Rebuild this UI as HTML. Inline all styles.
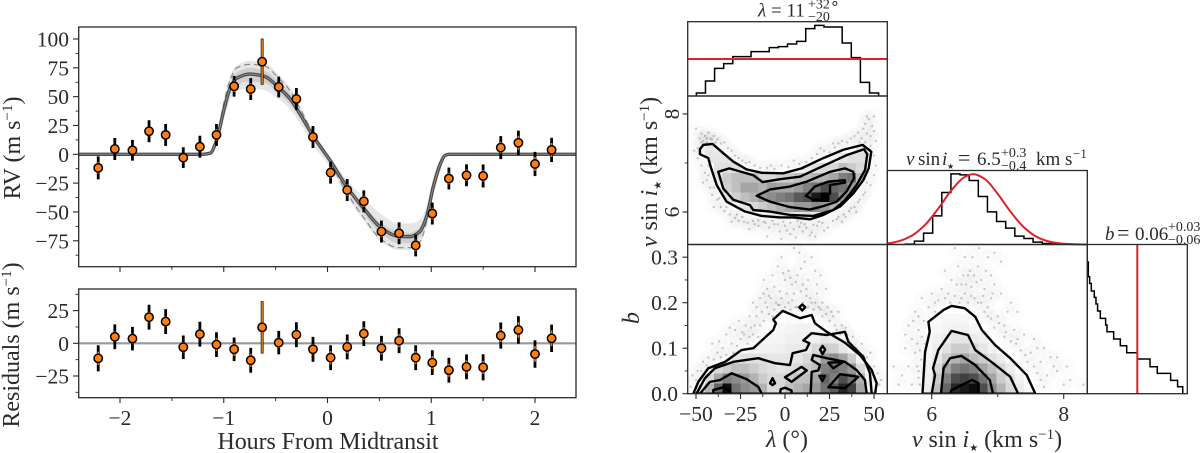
<!DOCTYPE html>
<html lang="en">
<head>
<meta charset="utf-8">
<title>RV transit fit and corner plot</title>
<style>
html,body{margin:0;padding:0;background:#fff;width:1200px;height:453px;overflow:hidden;}
svg{display:block;overflow:hidden;}
text{font-family:"Liberation Serif","DejaVu Serif",serif;fill:#2b2b2b;}
.tick{font-size:21.5px;}
.lab{font-size:24px;}
.ttl{font-size:19px;}
.frame{fill:none;stroke:#2a2a2a;stroke-width:1.3;}
</style>
</head>
<body>
<svg id="chart" xmlns="http://www.w3.org/2000/svg" width="1200" height="453" viewBox="0 0 1200 453">
<defs>
<clipPath id="clip-rv"><rect x="78.7" y="27" width="497.3" height="239.7"/></clipPath>
<clipPath id="clip-res"><rect x="78.7" y="289" width="497.3" height="108.7"/></clipPath>
<clipPath id="clip-a"><rect x="687.7" y="96" width="199.6" height="148.5"/></clipPath>
<clipPath id="clip-b"><rect x="687.7" y="244.5" width="199.6" height="149.2"/></clipPath>
<clipPath id="clip-c"><rect x="887.3" y="244.5" width="200" height="149.2"/></clipPath>
</defs>
<g id="marks"></g>
<g id="ticks"></g>
<g>
<rect class="frame" x="78.7" y="27" width="497.3" height="239.7"/>
<rect class="frame" x="78.7" y="289" width="497.3" height="108.7"/>
<rect class="frame" x="687.7" y="21.7" width="199.6" height="74.3"/>
<rect class="frame" x="687.7" y="96" width="199.6" height="148.5"/>
<rect class="frame" x="687.7" y="244.5" width="199.6" height="149.2"/>
<rect class="frame" x="887.3" y="170.5" width="200" height="74"/>
<rect class="frame" x="887.3" y="244.5" width="200" height="149.2"/>
<rect class="frame" x="1087.3" y="244.5" width="100" height="149.2"/>
</g>
<text class="lab" transform="translate(20,148) rotate(-90)" text-anchor="middle">RV (m s<tspan font-size="15" dy="-8">−1</tspan><tspan dy="8">)</tspan></text>
<text class="lab" transform="translate(19,345) rotate(-90)" text-anchor="middle">Residuals (m s<tspan font-size="15" dy="-8">−1</tspan><tspan dy="8">)</tspan></text>
<text class="lab" x="328" y="449" text-anchor="middle" textLength="221">Hours From Midtransit</text>
<text class="lab" transform="translate(657,172) rotate(-90)" text-anchor="middle"><tspan font-style="italic">v</tspan> sin <tspan font-style="italic">i</tspan><tspan font-size="10" dy="4">★</tspan><tspan dy="-4"> (km s</tspan><tspan font-size="15" dy="-8">−1</tspan><tspan dy="8">)</tspan></text>
<text class="lab" transform="translate(639,318) rotate(-90)" text-anchor="middle" font-style="italic">b</text>
<text class="lab" x="787" y="447" text-anchor="middle"><tspan font-style="italic">λ</tspan> (°)</text>
<text class="lab" x="987" y="447" text-anchor="middle"><tspan font-style="italic">v</tspan> sin <tspan font-style="italic">i</tspan><tspan font-size="10" dy="4">★</tspan><tspan dy="-4"> (km s</tspan><tspan font-size="15" dy="-8">−1</tspan><tspan dy="8">)</tspan></text>
<text class="ttl" x="758" y="16.5"><tspan font-style="italic">λ</tspan> = 11<tspan x="808" y="8.5" font-size="14">+32</tspan><tspan font-size="16" font-family="DejaVu Sans">∘</tspan><tspan x="808" y="21" font-size="14">−20</tspan></text>
<text class="ttl" y="165"><tspan x="906" font-style="italic">v</tspan><tspan x="918">sin</tspan><tspan x="942" font-style="italic">i</tspan><tspan x="947" y="169" font-size="8">★</tspan><tspan x="958" y="165" font-size="22">=</tspan><tspan x="977">6.5</tspan><tspan x="1001" y="157" font-size="14">+0.3</tspan><tspan x="1001" y="170" font-size="14">−0.4</tspan><tspan x="1036" y="165">km s</tspan><tspan x="1073" y="158" font-size="13">−1</tspan></text>
<text class="ttl" y="240"><tspan x="1105" font-style="italic">b</tspan><tspan x="1117" font-size="22">=</tspan><tspan x="1135">0.06</tspan><tspan x="1168" y="231" font-size="14">+0.03</tspan><tspan x="1168" y="244" font-size="14">−0.06</tspan></text>
</svg>
<script>
// --- RV panel data ---
const hours = [-2.21,-2.05,-1.88,-1.72,-1.56,-1.39,-1.23,-1.07,-0.90,-0.74,-0.63,-0.47,-0.30,-0.14,0.03,0.19,0.35,0.52,0.69,0.85,1.01,1.17,1.34,1.50,1.67,1.84,2.00,2.16];
const rv = [-11.8,4.6,3.5,20,16.8,-2.9,6.6,16.8,59,56.6,80.3,58.4,48,15,-15.9,-31,-40.8,-67,-68.5,-79,-51.4,-21,-18.2,-18.8,5.8,10,-8.4,3.8];
const residuals = [-11.5,5,3.6,20,16.6,-3,7,-1,-4.6,-13,12.2,0.5,6.6,-4.6,-11,-2.8,7.4,-3.8,2,-11,-14.8,-20.6,-18,-18.4,5.9,10.2,-8.2,3.8];
const errTotal = [10,9.5,9,9.5,9.5,9,9.5,9.5,9,9.5,20,9,9.5,9.5,9.5,9.5,9.5,9.5,9.5,9.5,9.5,9.5,9.5,10,10,10.5,10.5,10.5];
const errInstr = [5,4,4,4,4,4,4,5,5,5,19.5,4,4,4,5,5,5,5,5,5,5,5,5,5,5,6,6,6];
const modelHours = [-2.4,-1.2,-1.13,-1.07,-1.0,-0.94,-0.875,-0.75,-0.62,-0.46,-0.36,-0.265,-0.14,0.03,0.185,0.35,0.52,0.68,0.795,0.89,0.955,1.02,1.085,1.13,1.17,2.4];
const modelRV = [0,0,1,12,38,57,66,69.6,68,57,48,35,16,-6,-28,-47,-64,-71,-71.4,-67,-54,-28,-9,-1.2,0,0];
const dashedRV = [0,0,1,14,44,64,75,78,77,65,55,40,18,-8,-33,-55,-74,-81,-81,-76,-59,-30,-11,-1.5,0,0];
const outerHi = [0,0,2,16,47,68,77,81,80,68,58,42,20,-3,-22,-38,-52,-60,-60,-57,-45,-20,-4,0,0,0];
const outerLo = [0,0,0,8,30,47,55,57,56,47,39,27,8,-12,-36,-58,-76,-83,-83,-78,-62,-36,-15,-3,0,0];
const innerHi = [0,0,1.5,13,41,61,71,75,73,62,53,38,17,-5,-26,-44,-60,-67,-68,-63,-50,-25,-7,-0.5,0,0];
const innerLo = [0,0,0.5,10,34,52,60,63,62,52,43,31,13,-9,-31,-52,-69,-77,-77,-72,-58,-31,-11,-2,0,0];
const rvTicks = [100,75,50,25,0,-25,-50,-75];
const rvTickLabels = ["100","75","50","25","0","−25","−50","−75"];
const resTicks = [25,0,-25];
const resTickLabels = ["25","0","−25"];
const hourTicks = [-2,-1,0,1,2];
const hourTickLabels = ["−2","−1","0","1","2"];

// --- Corner histograms ---
const lambdaHist = [9,45,83,97,118,118,133,133,145,148,156,164,202,212,207,207,159,115,41,9];
const lambdaBinStart = -49.8;
const lambdaBinWidth = 5.12;
const lambdaPriorLevel = [111];
const vsiniHist = [1,10,34,86,156,212,209,192,144,98,69,49,25,18,7,3,1];
const vsiniBinStart = 5.6;
const vsiniBinWidth = 0.1383;
const priorV = [5.33,5.5,5.7,5.9,6.1,6.3,6.5,6.63,6.8,7,7.2,7.4,7.6,7.8,8,8.36];
const priorH = [3.7,10,26.6,59,108,163,202.6,211,197,152,97,51,22,8,2.3,0];
const bHistEdges = [0,0.0033,0.0077,0.0132,0.023,0.0286,0.034,0.043,0.0605,0.065,0.087,0.109,0.13,0.165,0.207,0.231,0.275,0.298,0.315,0.318];
const bHist = [395,351,331,308,289,269,248,226,206,186,164,144,123,104,81,61,40,21,0];
const bPrior = [0.165];

// --- 2D histograms (darkness, top row first) ---
const heatAV = [7.3,7.1,6.9,6.7,6.5,6.3,6.1,5.9];
const heatA = [
[.05,.1,.08,0,0,0,0,0,0,0,0,0,0,0,0,0,0,0,.1,.05],
[0,.1,.1,.1,.05,0,0,0,0,0,0,0,0,0,0,.05,.1,.12,.12,.08],
[0,0,.12,.12,.12,.1,.05,0,0,0,.02,.05,.08,.12,.15,.15,.25,.2,.15,.05],
[0,0,.1,.2,.25,.25,.25,.15,.15,.18,.2,.25,.25,.3,.3,.35,.5,.55,.25,0],
[0,0,.05,.18,.25,.35,.35,.3,.38,.35,.35,.4,.5,.55,.7,.6,.55,.4,.1,0],
[0,0,0,.1,.18,.25,.3,.4,.45,.5,.55,.65,.7,.9,1,.7,.45,.2,.05,0],
[0,0,0,0,.05,.1,.15,.2,.25,.3,.35,.4,.4,.45,.4,.3,.15,.05,0,0],
[0,0,0,0,0,0,.03,.06,.08,.1,.1,.1,.12,.1,.06,.03,0,0,0,0]];
const heatBRows = [.165,.143,.121,.099,.077,.055,.033,.011];
const heatB = [
[0,0,0,0,0,0,0,0,0,0,.02,.02,0,0,0,0,0,0,0,0],
[0,0,0,0,0,0,0,0,0,.03,.04,.05,.05,.03,0,0,0,0,0,0],
[0,0,0,0,0,0,0,.03,.04,.04,.06,.06,.05,.06,.1,.08,.05,0,0,0],
[0,0,0,0,0,.03,.05,.05,.05,.06,.08,.08,.08,.15,.2,.18,.1,.05,0,0],
[0,0,.03,.08,.1,.12,.12,.12,.1,.1,.1,.1,.15,.2,.4,.45,.35,.2,.05,0],
[0,.05,.15,.2,.25,.25,.2,.15,.12,.1,.12,.15,.2,.25,.5,.55,.5,.4,.15,.02],
[.02,.15,.35,.5,.45,.4,.3,.2,.15,.15,.2,.25,.25,.35,.6,.5,.7,.55,.3,.05],
[.1,.3,.6,.95,.55,.45,.4,.3,.15,.15,.25,.3,.35,.4,.55,.65,.85,.75,.35,.05]];
const heatC = [
[0,0,0,.02,.03,.03,.03,.02,0,0,0,0,0,0],
[0,0,.02,.03,.04,.05,.05,.04,.03,0,0,0,0,0],
[0,0,.03,.05,.08,.1,.1,.08,.06,.03,0,0,0,0],
[0,0,.03,.07,.12,.2,.2,.15,.1,.05,.02,0,0,0],
[0,0,.04,.1,.2,.3,.35,.25,.2,.12,.08,.02,0,0],
[0,0,.05,.15,.35,.5,.55,.5,.35,.25,.15,.08,.02,0],
[0,0,.06,.2,.5,.7,.75,.7,.55,.35,.2,.12,.05,.01],
[0,0,.08,.25,.6,.85,.9,.95,.7,.45,.3,.15,.08,.02]];

// --- Contours: [x,y] in data units ---
const contoursA = [
[[-47.8,7.28],[-45.9,7.37],[-40.7,7.39],[-34.7,7.2],[-29.1,7.03],[-21.6,6.87],[-13.1,6.8],[-1,6.79],[9.3,6.89],[21.5,7.1],[32.8,7.27],[43.6,7.37],[48.5,7.23],[47,6.89],[44,6.65],[38.4,6.38],[30.9,6.11],[21.5,5.94],[14,5.85],[4.7,5.89],[-2.8,5.89],[-13.1,5.92],[-22.5,6.01],[-32.8,6.21],[-38.4,6.55],[-41.8,6.93],[-43.1,7.1],[-47.8,7.18]],
[[-37.5,6.82],[-31.3,6.89],[-17.8,6.75],[-12.6,6.61],[-2.8,6.67],[8.4,6.72],[21.5,6.94],[34.6,7.16],[44.4,7.28],[46.2,7.18],[45,6.86],[40.2,6.55],[33.7,6.24],[27.1,6.04],[15.9,5.92],[2.8,5.94],[-8.4,6.01],[-17.8,6.04],[-19.7,6.14],[-29.1,6.25],[-34.7,6.48]],
[[-15.9,6.33],[-8.4,6.46],[2.8,6.52],[12.2,6.62],[25.3,6.82],[33.7,6.89],[38.4,6.82],[38.8,6.69],[34.6,6.42],[29,6.21],[21.5,6.12],[14,6.05],[2.8,6.1],[-8.4,6.21]],
[[11.8,6.33],[16.8,6.52],[24.3,6.62],[33.7,6.65],[33.7,6.6],[25.3,6.55],[25.3,6.38],[21.5,6.25],[15.9,6.25]]];
const contoursB = [
[[-51.5,0],[-48.7,.026],[-43.1,.056],[-33.7,.07],[-24.4,.096],[-17.8,.1],[-6.6,.14],[-5.1,.155],[-6.6,.163],[-1.3,.182],[8.4,.166],[15,.173],[16.8,.155],[23.4,.136],[33.7,.112],[42.1,.085],[48.7,.052],[51.5,.023],[50.6,0]],
[[-49.7,0],[-45,.034],[-39.4,.056],[-29,.07],[-15,.078],[-5.6,.067],[2.8,.063],[4.3,.089],[11.8,.096],[13.7,.111],[10.3,.117],[15,.133],[23.4,.129],[33.7,.136],[35.6,.114],[44,.081],[47.7,.045],[48.7,0]],
[[-47.8,0],[-42.2,.026],[-36.5,.03],[-30,.045],[-21.6,.032],[-15,.015],[-13.1,0]],
[[14.4,0],[15,.048],[18.7,.051],[19.6,.063],[15,.074],[15.9,.085],[23.4,.078],[33.7,.07],[40.2,.052],[44.9,.03],[45.9,0]],
[[0,.036],[9.3,.059],[12.2,.051],[3.7,.026]],
[[-2.8,0],[-2.4,.01],[0,.013],[3.7,.007],[3.7,0]],
[[-7,.034],[-8.4,.023],[-7,.019],[-5.6,.023]],
[[9.7,.196],[8,.19],[9.7,.183],[11.4,.19]],
[[21.1,.105],[19.7,.097],[21.1,.087],[22.6,.097]],
[[24.3,.068],[32.8,.07],[27.1,.056]],
[[19.3,.039],[22.5,.039],[21,.028]],
[[24.3,.014],[30.9,.043],[41.2,.037],[33.7,.012],[27.1,.014]],
[[-40.3,.008],[-34.7,.014],[-30.9,.007],[-30.9,0],[-40.3,0]]];
const contoursC = [
[[5.86,0],[5.9,.092],[5.97,.136],[5.95,.158],[6.18,.184],[6.3,.193],[6.5,.188],[6.66,.169],[6.76,.14],[6.96,.107],[7.19,.078],[7.44,.041],[7.57,0]],
[[6,0],[6.05,.041],[6.02,.056],[6.1,.096],[6.3,.138],[6.55,.129],[6.66,.096],[6.93,.067],[7.19,.037],[7.31,0]],
[[6.14,0],[6.18,.056],[6.28,.078],[6.45,.083],[6.66,.063],[6.88,.03],[6.93,0]],
[[6.28,0],[6.3,.008],[6.61,.03],[6.71,.023],[6.71,0]]];

// --- Posterior scatter samples read from the haze ---
const samplesA = [[-50,7.7],[-48,7.5],[-47,7.6],[-46,7.45],[-45,7.55],[-44,7.5],[-43,7.62],[-42,7.5],[-41,7.48],[-40,7.55],[-38,7.48],[-36,7.4],[-34,7.42],[-32,7.3],[-30,7.25],[-28,7.15],[-26,7.1],[-24,7.05],[-22,7],[-20,7.02],[-17,6.95],[-14,6.9],[-10,6.9],[-6,6.88],[-2,6.95],[2,6.92],[5,7.05],[8,6.98],[12,7.02],[15,7.1],[18,7.18],[22,7.25],[25,7.22],[28,7.32],[30,7.4],[32,7.45],[35,7.42],[37,7.5],[39,7.55],[41,7.62],[43,7.5],[44,7.7],[45,7.8],[46,7.6],[47,7.9],[48,7.55],[49,7.75],[50,7.65],[51,7.45],[50,7.95],[46,7.95],[42,7.42],[-49,7.3],[-51,7.25],[-49,7.1],[-47,6.95],[-45,6.8],[-44,6.65],[-42,6.5],[-41,6.35],[-38,6.25],[-36,6.1],[-34,6.02],[-31,5.95],[-28,5.88],[-26,5.82],[-24,5.9],[-21,5.78],[-18,5.82],[-15,5.72],[-12,5.8],[-9,5.68],[-6,5.75],[-3,5.6],[0,5.72],[3,5.55],[5,5.65],[8,5.7],[10,5.6],[12,5.68],[15,5.58],[18,5.72],[21,5.78],[24,5.68],[27,5.82],[30,5.9],[33,5.95],[36,6.02],[39,6.1],[42,6.25],[45,6.4],[48,6.55],[50,6.75],[51,6.95],[50,7.15],[-10,5.5],[-2,5.45],[6,5.48],[14,5.52],[-20,5.65],[22,5.62],[-30,5.8],[32,5.8],[-40,6.1],[40,6],[-46,6.6],[-43,6.95],[48,7.35],[45,7.42],[-47,7.42],[-44,7.42],[-39,7.42],[27,7.4],[20,7.3],[-8,6.95],[-4,5.75],[1,5.62],[9,5.78],[-15,5.83],[17,5.5],[-11,5.78],[-7,5.82],[-1,5.8],[3,5.78],[7,5.82],[11,5.75],[16,5.74],[19,5.8],[-17,5.75],[-23,5.8],[-27,5.95],[-33,6.1],[-37,6.28],[-40,6.5],[-43,6.75],[46,6.6],[44,6.35],[41,6.2],[37,6.08],[34,5.9],[29,5.85]];
const samplesB = [[-2,.3],[2,.27],[5,.32],[8,.31],[11,.29],[15,.3],[-4,.28],[-7,.26],[0,.25],[4,.24],[7,.26],[10,.24],[13,.25],[17,.27],[20,.26],[23,.23],[-10,.23],[-12,.25],[-14,.21],[-8,.21],[-5,.2],[-2,.21],[2,.2],[5,.22],[9,.225],[12,.215],[15,.2],[18,.22],[21,.2],[24,.19],[27,.17],[30,.18],[-16,.19],[-13,.18],[-18,.2],[-20,.17],[-22,.15],[-17,.15],[-12,.16],[-9,.175],[-25,.12],[-28,.14],[-30,.11],[-33,.13],[-26,.16],[-35,.1],[-38,.09],[-41,.11],[-43,.08],[-46,.07],[-49,.05],[-52,.04],[32,.15],[35,.13],[38,.125],[40,.1],[43,.11],[46,.08],[48,.09],[50,.06],[52,.045],[53,.02],[54,.03],[-53,.015],[-50,.03],[-37,.115],[-31,.145],[-24,.135],[-20,.125],[-15,.125],[28,.15],[25,.16],[21,.17],[16,.185],[0,.19],[3,.185],[7,.19],[-3,.225],[-6,.235],[-9,.215],[1,.22],[6,.245],[12,.23],[-1,.265],[3,.255],[9,.275],[-11,.2],[-16,.17],[-19,.145],[-23,.13],[-27,.105],[19,.19],[23,.175],[34,.145],[37,.11],[41,.09],[44,.085],[-40,.075],[-44,.062],[-47,.05],[14,.21],[-4,.195],[18,.24],[-12,.22],[-6,.185],[-3,.195],[4,.205],[10,.2],[13,.19],[17,.2],[20,.185],[-10,.19],[-14,.15],[-18,.13],[26,.18],[29,.14],[31,.13],[36,.115],[-21,.11],[-29,.09],[-33,.085],[-36,.08],[6,.19],[-7,.17]];
const samplesC = [[6.35,.32],[6.6,.33],[6.95,.31],[7.05,.29],[6.85,.3],[6.7,.28],[6.5,.3],[6.4,.28],[6.55,.26],[6.75,.25],[6.9,.26],[6.3,.25],[6.45,.24],[6.6,.235],[6.8,.23],[6.95,.24],[7.05,.22],[7.2,.2],[7.3,.18],[6.15,.23],[6.25,.22],[6.35,.215],[6.5,.22],[6.65,.21],[6.75,.2],[6.9,.21],[6.85,.17],[7,.17],[7.1,.15],[7.25,.14],[7.4,.13],[7.55,.12],[7.7,.1],[7.8,.08],[7.5,.09],[7.65,.07],[7.9,.05],[8.1,.03],[8.3,.02],[8,.02],[7.75,.04],[6.05,.2],[5.95,.19],[5.85,.21],[5.75,.18],[5.65,.15],[5.8,.14],[5.7,.12],[5.6,.1],[5.75,.09],[5.65,.06],[5.8,.05],[5.55,.04],[5.7,.02],[5.5,.02],[5.42,.06],[5.6,.13],[5.88,.16],[5.9,.11],[5.82,.02],[5.84,.075],[6.1,.205],[6.42,.2],[6.55,.2],[6.8,.18],[6.95,.145],[7.1,.125],[7.2,.115],[7.35,.095],[7.45,.07],[7.6,.045],[7.7,.015],[7.9,.08],[8.05,.06],[6.2,.27],[6.62,.3],[6.72,.32],[6.48,.26],[6.58,.27],[6.82,.27],[6.92,.22],[6.38,.24],[6.68,.245],[6.78,.215],[6.28,.2],[7.15,.18],[7.3,.12],[5.78,.11],[5.72,.16],[6,.22],[7.6,.1],[7.85,.06],[6.45,.21],[6.6,.215],[6.7,.2],[6.85,.19],[6.9,.165],[7.02,.155],[7.12,.135],[7.28,.11],[7.42,.085],[7.55,.06],[7.65,.03],[5.8,.17],[5.85,.125],[5.82,.095],[5.78,.06],[5.8,.035],[6.2,.21],[6.05,.18],[6.52,.24],[6.64,.26]];

// --- Tick values ---
const lambdaTicks = [-50,-25,0,25,50];
const lambdaTickLabels = ["−50","−25","0","25","50"];
const bTicks = [0,0.1,0.2,0.3];
const bTickLabels = ["0.0","0.1","0.2","0.3"];
const vTicks = [6,8];
const vTickLabels = ["6","8"];

// --- Axis functions ---
const xH = h => 327.5 + 103.75 * h;
const yRV = v => 154.3 - 1.153 * v;
const yRes = v => 343.3 - 1.307 * v;
const xL = l => 785 + 1.78 * l;
const yV = v => 212 - 49 * (v - 6);
const yB = b => 393.7 - 455 * b;
const xV = v => 931.7 + 66 * (v - 6);
const xBh = b => 1087.3 + 303 * b;
const yHL = c => 96 - c / 3;
const yHV = c => 244.5 - c / 3;
const yHB = c => 393.7 - c / 3;

const NS = 'http://www.w3.org/2000/svg';
const defs = document.querySelector('#chart defs');
const marks = document.getElementById('marks');
const tickG = document.getElementById('ticks');
function mk(tag, parent, attrs) {
  const e = document.createElementNS(NS, tag);
  for (const k in attrs) e.setAttribute(k, attrs[k]);
  parent.appendChild(e);
  return e;
}
function slopeAt(a, b, c) {
  const d1 = (b[1] - a[1]) / ((b[0] - a[0]) || 1);
  const d2 = (c[1] - b[1]) / ((c[0] - b[0]) || 1);
  if (d1 * d2 <= 0) return 0;
  return 2 * d1 * d2 / (d1 + d2);
}
function smooth(pts) {
  let d = 'M' + pts[0][0].toFixed(2) + ' ' + pts[0][1].toFixed(2);
  for (let i = 0; i < pts.length - 1; i++) {
    const p0 = pts[Math.max(i - 1, 0)], p1 = pts[i], p2 = pts[i + 1], p3 = pts[Math.min(i + 2, pts.length - 1)];
    const t = (p2[0] - p1[0]) / 3;
    const m1 = slopeAt(p0, p1, p2);
    const m2 = slopeAt(p1, p2, p3);
    d += ' C' + (p1[0] + t).toFixed(2) + ' ' + (p1[1] + m1 * t).toFixed(2) + ' ' + (p2[0] - t).toFixed(2) + ' ' + (p2[1] - m2 * t).toFixed(2) + ' ' + p2[0].toFixed(2) + ' ' + p2[1].toFixed(2);
  }
  return d;
}
function poly(pts, close) {
  return 'M' + pts.map(p => p[0].toFixed(2) + ' ' + p[1].toFixed(2)).join(' L') + (close ? 'Z' : '');
}
function stepPath(start, width, vals, fx, fy) {
  const pts = [[fx(start), fy(0)]];
  vals.forEach((c, i) => {
    pts.push([fx(start + i * width), fy(c)]);
    pts.push([fx(start + (i + 1) * width), fy(c)]);
  });
  pts.push([fx(start + vals.length * width), fy(0)]);
  return poly(pts, false);
}
function tickMark(x1, y1, x2, y2, w) {
  const el = mk('line', tickG, {x1, y1, x2, y2, stroke: '#2a2a2a', 'stroke-width': w});
  
  
}
function tickLabel(x, y, str, anchor, rot) {
  const el = mk('text', tickG, {class: 'tick', 'text-anchor': anchor});
  if (rot) el.setAttribute('transform', 'translate(' + x + ',' + y + ') rotate(-90)');
  else { el.setAttribute('x', x); el.setAttribute('y', y); }
  el.textContent = str;
  
  
}

// --- RV panel ---
const rvG = mk('g', marks, {'clip-path': 'url(#clip-rv)'});


function band(hi, lo, fill) {
  const top = modelHours.map((h, i) => [xH(h), yRV(hi[i])]);
  const bot = modelHours.map((h, i) => [xH(h), yRV(lo[i])]).reverse();
  const el = mk('path', rvG, {d: smooth(top) + ' L' + smooth(bot).slice(1) + 'Z', fill: fill, stroke: 'none'});
  
  
}
band(outerHi, outerLo, '#e6e6e6');
band(innerHi, innerLo, '#cfcfcf');
const dashedPts = modelHours.map((h, i) => [xH(h), yRV(dashedRV[i])]);
const dashedLine = mk('path', rvG, {d: smooth(dashedPts), fill: 'none', stroke: '#8a8a8a', 'stroke-width': 1.2, 'stroke-dasharray': '6 4'});


const modelPts = modelHours.map((h, i) => [xH(h), yRV(modelRV[i])]);
const modelOuter = mk('path', rvG, {d: smooth(modelPts), fill: 'none', stroke: '#4a4a4a', 'stroke-width': 3.4});


const modelInner = mk('path', rvG, {d: smooth(modelPts), fill: 'none', stroke: '#8c8c8c', 'stroke-width': 1});



function drawPoints(parent, vals, fy) {
  hours.forEach((h, i) => {
    const x = xH(h), y = fy(vals[i]);
    const eb = mk('line', parent, {x1: x, x2: x, y1: fy(vals[i] + errTotal[i]), y2: fy(vals[i] - errTotal[i]), stroke: '#000', 'stroke-width': 2.8});
    
    
    const eo = mk('line', parent, {x1: x, x2: x, y1: fy(vals[i] + errInstr[i]), y2: fy(vals[i] - errInstr[i]), stroke: '#e8780c', 'stroke-width': 1.6});
    
    
    const c = mk('circle', parent, {cx: x, cy: y, r: 4.2, fill: '#ff7f0e', stroke: '#000', 'stroke-width': 1.5});
    
    
  });
}
drawPoints(rvG, rv, yRV);

// --- Residual panel ---
const resG = mk('g', marks, {'clip-path': 'url(#clip-res)'});


const zeroLine = mk('line', resG, {x1: xH(-2.4), x2: xH(2.4), y1: yRes(0), y2: yRes(0), stroke: '#999', 'stroke-width': 2.2});


drawPoints(resG, residuals, yRes);

// --- Corner: 2D panels ---
function corner(clip, samples, fx, fy, contours) {
  const g = mk('g', marks, {'clip-path': 'url(#' + clip + ')'});
  
  
  samples.forEach(s => {
    const halo = mk('circle', g, {cx: fx(s[0]), cy: fy(s[1]), r: 8, fill: '#000', 'fill-opacity': 0.012});
    
    
  });
  samples.forEach(s => {
    const d = mk('circle', g, {cx: fx(s[0]), cy: fy(s[1]), r: 1.2, fill: '#000', 'fill-opacity': 0.2});
    
    
  });
  const outer = contours[0].map(p => [fx(p[0]), fy(p[1])]);
  const cover = mk('path', g, {d: poly(outer, true), fill: '#fff', stroke: 'none'});
  
  
  const cp = mk('clipPath', defs, {id: clip + '-inner'});
  mk('path', cp, {d: poly(outer, true)});
  const inner = mk('g', g, {'clip-path': 'url(#' + clip + '-inner)'});
  
  
  g.heatLayer = inner;
  return g;
}
function heat(g, grid, colX, rowY) {
  grid.forEach((row, r) => row.forEach((val, c) => {
    if (!val) return;
    const box = [colX(c), rowY(r)];
    const g255 = Math.round(255 * (1 - val));
    const cell = mk('rect', g.heatLayer, {x: box[0][0], y: box[1][0], width: box[0][1] - box[0][0], height: box[1][1] - box[1][0], fill: 'rgb(' + g255 + ',' + g255 + ',' + g255 + ')', 'shape-rendering': 'crispEdges'});
    
    
  }));
}
function contourLines(g, contours, fx, fy) {
  contours.forEach(ct => {
    const pts = ct.map(p => [fx(p[0]), fy(p[1])]);
    const path = mk('path', g, {d: poly(pts, true), fill: 'none', stroke: '#000', 'stroke-width': 2.4, 'stroke-linejoin': 'round'});
    
    
  });
}
const gA = corner('clip-a', samplesA, xL, yV, contoursA);
heat(gA, heatA, c => [xL(-50 + 5 * c), xL(-45 + 5 * c)], r => [yV(heatAV[r] + 0.1), yV(heatAV[r] - 0.1)]);
contourLines(gA, contoursA, xL, yV);
const gB = corner('clip-b', samplesB, xL, yB, contoursB);
heat(gB, heatB, c => [xL(-50 + 5 * c), xL(-45 + 5 * c)], r => [yB(heatBRows[r] + 0.011), yB(heatBRows[r] - 0.011)]);
contourLines(gB, contoursB, xL, yB);
const gC = corner('clip-c', samplesC, xV, yB, contoursC);
heat(gC, heatC, c => [xV(vsiniBinStart + vsiniBinWidth * c), xV(vsiniBinStart + vsiniBinWidth * (c + 1))], r => [yB(heatBRows[r] + 0.011), yB(heatBRows[r] - 0.011)]);
contourLines(gC, contoursC, xV, yB);

// --- Corner: histograms ---
const histL = mk('path', marks, {d: stepPath(lambdaBinStart, lambdaBinWidth, lambdaHist, xL, yHL), fill: 'none', stroke: '#000', 'stroke-width': 1.5});


const priorL = mk('line', marks, {x1: 687.7, x2: 887.3, y1: yHL(lambdaPriorLevel[0]), y2: yHL(lambdaPriorLevel[0]), stroke: '#e0202a', 'stroke-width': 2});


const histV = mk('path', marks, {d: stepPath(vsiniBinStart, vsiniBinWidth, vsiniHist, xV, yHV), fill: 'none', stroke: '#000', 'stroke-width': 1.5});


const priorCurve = mk('path', marks, {d: smooth(priorV.map((v, i) => [xV(v), yHV(priorH[i])])), fill: 'none', stroke: '#e0202a', 'stroke-width': 2});


const bPts = [];
bHist.forEach((c, i) => {
  if (c <= 0) return;
  bPts.push([xBh(bHistEdges[i]), yHB(c)]);
  bPts.push([xBh(bHistEdges[i + 1]), yHB(c)]);
});
bPts.push([bPts[bPts.length - 1][0], yHB(0)]);
const histB = mk('path', marks, {d: poly(bPts, false), fill: 'none', stroke: '#000', 'stroke-width': 1.5});


const priorB = mk('line', marks, {x1: xBh(bPrior[0]), x2: xBh(bPrior[0]), y1: 244.5, y2: 393.7, stroke: '#e0202a', 'stroke-width': 2});



// --- Ticks ---
rvTicks.forEach((v, i) => {
  tickMark(73, yRV(v), 78.7, yRV(v), 1.1);
  tickLabel(69, yRV(v) + 7.5, rvTickLabels[i], 'end');
});
for (let k = 0; k < rvTicks.length; k++) {
  tickMark(75.5, yRV(rvTicks[k] - 12.5), 78.7, yRV(rvTicks[k] - 12.5), 0.9);
}
resTicks.forEach((v, i) => {
  tickMark(73, yRes(v), 78.7, yRes(v), 1.1);
  tickLabel(69, yRes(v) + 7.5, resTickLabels[i], 'end');
});
[resTicks[0] + 12.5, resTicks[0] - 12.5, resTicks[2] + 12.5, resTicks[2] - 12.5].forEach(v => {
  tickMark(75.5, yRes(v), 78.7, yRes(v), 0.9);
});
hourTicks.forEach((h, i) => {
  tickMark(xH(h), 266.7, xH(h), 272, 1.1);
  tickMark(xH(h), 397.7, xH(h), 403, 1.1);
  tickLabel(xH(h), 425, hourTickLabels[i], 'middle');
});
hourTicks.slice(0, 4).forEach(h => {
  tickMark(xH(h + 0.5), 266.7, xH(h + 0.5), 270, 0.9);
  tickMark(xH(h + 0.5), 397.7, xH(h + 0.5), 401, 0.9);
});
lambdaTicks.forEach((l, i) => {
  tickMark(xL(l), 393.7, xL(l), 399, 1.1);
  tickLabel(xL(l), 421, lambdaTickLabels[i], 'middle');
});
lambdaTicks.slice(0, 4).forEach(l => {
  tickMark(xL(l + 12.5), 393.7, xL(l + 12.5), 397, 0.9);
});
bTicks.forEach((b, i) => {
  tickMark(682.5, yB(b), 687.7, yB(b), 1.1);
  tickLabel(678, yB(b) + 7.5, bTickLabels[i], 'end');
});
bTicks.slice(0, 3).forEach(b => {
  tickMark(684.7, yB(b + 0.05), 687.7, yB(b + 0.05), 0.9);
});
vTicks.forEach((v, i) => {
  tickMark(682.5, yV(v), 687.7, yV(v), 1.1);
  tickLabel(679, yV(v), vTickLabels[i], 'middle', true);
  tickMark(xV(v), 393.7, xV(v), 399, 1.1);
  tickLabel(xV(v), 421, vTickLabels[i], 'middle');
});
tickMark(684.7, yV(vTicks[0] + 1), 687.7, yV(vTicks[0] + 1), 0.9);
tickMark(xV(vTicks[0] + 1), 393.7, xV(vTicks[0] + 1), 397, 0.9);
</script>
</body>
</html>
